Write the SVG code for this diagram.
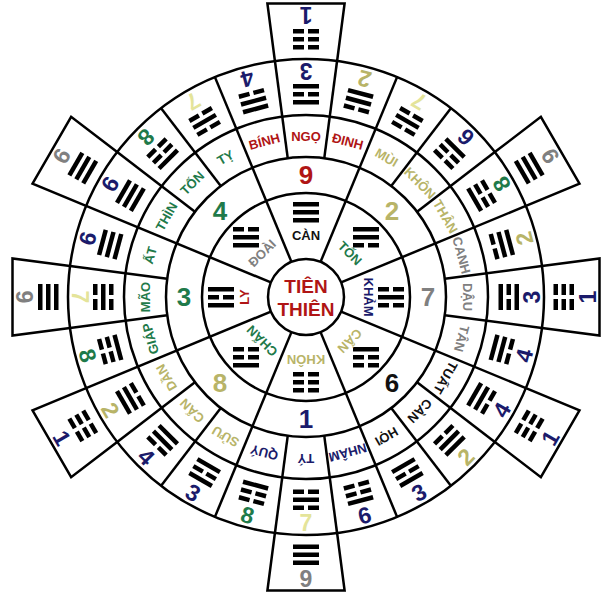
<svg xmlns="http://www.w3.org/2000/svg" xmlns:xlink="http://www.w3.org/1999/xlink" width="610" height="603" viewBox="0 0 610 603">
<style>
.ln{stroke:#000;stroke-width:2.5;fill:none}
.bx{stroke:#000;stroke-width:2.5;fill:#fff}
.lb{font-family:"Liberation Sans",Arial,sans-serif;font-weight:bold;font-size:13px;text-anchor:middle;dominant-baseline:central}
.nm{font-family:"Liberation Sans",Arial,sans-serif;font-weight:bold;font-size:23px;text-anchor:middle;dominant-baseline:central}
.ni{font-family:"Liberation Sans",Arial,sans-serif;font-weight:bold;font-size:26px;text-anchor:middle;dominant-baseline:central}
.red{fill:#b01515}.ol{fill:#b8b468}.ye{fill:#e4e49a}.nv{fill:#1b1b6b}.gr{fill:#1f7a4a}.gy{fill:#808080}.bk{fill:#111}
</style>
<defs>
<rect id="s" x="-13" y="-2" width="26" height="4.5"/>
<g id="b"><rect x="-13" y="-2" width="11" height="4.5"/><rect x="2" y="-2" width="11" height="4.5"/></g>
<g id="t9"><use href="#s" y="-8"/><use href="#s"/><use href="#s" y="8"/></g>
<g id="t4"><use href="#b" y="-8"/><use href="#s"/><use href="#s" y="8"/></g>
<g id="t3"><use href="#s" y="-8"/><use href="#b"/><use href="#s" y="8"/></g>
<g id="t8"><use href="#b" y="-8"/><use href="#b"/><use href="#s" y="8"/></g>
<g id="t2"><use href="#s" y="-8"/><use href="#s"/><use href="#b" y="8"/></g>
<g id="t7"><use href="#b" y="-8"/><use href="#s"/><use href="#b" y="8"/></g>
<g id="t6"><use href="#s" y="-8"/><use href="#b"/><use href="#b" y="8"/></g>
<g id="t1"><use href="#b" y="-8"/><use href="#b"/><use href="#b" y="8"/></g>
<path id="box" class="bx" d="M-31.1,-236 L-38.6,-293.5 L38.6,-293.5 L31.1,-236"/>
</defs>
<g transform="translate(306,297)">
<g id="boxes">
<g transform="rotate(0)"><use href="#box"/><use href="#t1" y="-258"/><text class="nm nv" transform="translate(0,-282) rotate(180)">1</text></g>
<g transform="rotate(60)"><use href="#box"/><use href="#t9" y="-258"/><text class="nm gy" transform="translate(0,-282) rotate(180)">9</text></g>
<g transform="rotate(90)"><use href="#box"/><use href="#t1" y="-258"/><text class="nm nv" transform="translate(0,-282) rotate(180)">1</text></g>
<g transform="rotate(120)"><use href="#box"/><use href="#t1" y="-258"/><text class="nm nv" transform="translate(0,-282) rotate(180)">1</text></g>
<g transform="rotate(180)"><use href="#box"/><use href="#t9" y="-258"/><text class="nm gy" transform="translate(0,-282) rotate(180)">9</text></g>
<g transform="rotate(240)"><use href="#box"/><use href="#t1" y="-258"/><text class="nm nv" transform="translate(0,-282) rotate(180)">1</text></g>
<g transform="rotate(270)"><use href="#box"/><use href="#t9" y="-258"/><text class="nm gy" transform="translate(0,-282) rotate(180)">9</text></g>
<g transform="rotate(300)"><use href="#box"/><use href="#t9" y="-258"/><text class="nm gy" transform="translate(0,-282) rotate(180)">9</text></g>
</g>
<circle r="238" fill="#fff" stroke="#000" stroke-width="2.5"/>
<g id="connectors" class="ln">
<circle r="182"/><circle r="140"/><circle r="104"/>
<line x1="0" y1="-140" x2="0" y2="-238" transform="rotate(7.5)"/>
<line x1="0" y1="-38" x2="0" y2="-238" transform="rotate(22.5)"/>
<line x1="0" y1="-140" x2="0" y2="-238" transform="rotate(37.5)"/>
<line x1="0" y1="-140" x2="0" y2="-238" transform="rotate(52.5)"/>
<line x1="0" y1="-38" x2="0" y2="-238" transform="rotate(67.5)"/>
<line x1="0" y1="-140" x2="0" y2="-238" transform="rotate(82.5)"/>
<line x1="0" y1="-140" x2="0" y2="-238" transform="rotate(97.5)"/>
<line x1="0" y1="-38" x2="0" y2="-238" transform="rotate(112.5)"/>
<line x1="0" y1="-140" x2="0" y2="-238" transform="rotate(127.5)"/>
<line x1="0" y1="-140" x2="0" y2="-238" transform="rotate(142.5)"/>
<line x1="0" y1="-38" x2="0" y2="-238" transform="rotate(157.5)"/>
<line x1="0" y1="-140" x2="0" y2="-238" transform="rotate(172.5)"/>
<line x1="0" y1="-140" x2="0" y2="-238" transform="rotate(187.5)"/>
<line x1="0" y1="-38" x2="0" y2="-238" transform="rotate(202.5)"/>
<line x1="0" y1="-140" x2="0" y2="-238" transform="rotate(217.5)"/>
<line x1="0" y1="-140" x2="0" y2="-238" transform="rotate(232.5)"/>
<line x1="0" y1="-38" x2="0" y2="-238" transform="rotate(247.5)"/>
<line x1="0" y1="-140" x2="0" y2="-238" transform="rotate(262.5)"/>
<line x1="0" y1="-140" x2="0" y2="-238" transform="rotate(277.5)"/>
<line x1="0" y1="-38" x2="0" y2="-238" transform="rotate(292.5)"/>
<line x1="0" y1="-140" x2="0" y2="-238" transform="rotate(307.5)"/>
<line x1="0" y1="-140" x2="0" y2="-238" transform="rotate(322.5)"/>
<line x1="0" y1="-38" x2="0" y2="-238" transform="rotate(337.5)"/>
<line x1="0" y1="-140" x2="0" y2="-238" transform="rotate(352.5)"/>
</g>
<g id="outer-ring">
<g transform="rotate(0)"><use href="#t3" y="-203"/><text class="nm nv" transform="translate(0,-226) rotate(180)">3</text></g>
<g transform="rotate(15)"><use href="#t2" y="-203"/><text class="nm ol" transform="translate(0,-226) rotate(180)">2</text></g>
<g transform="rotate(30)"><use href="#t7" y="-203"/><text class="nm ye" transform="translate(0,-226) rotate(180)">7</text></g>
<g transform="rotate(45)"><use href="#t6" y="-203"/><text class="nm nv" transform="translate(0,-226) rotate(180)">6</text></g>
<g transform="rotate(60)"><use href="#t8" y="-203"/><text class="nm gr" transform="translate(0,-226) rotate(180)">8</text></g>
<g transform="rotate(75)"><use href="#t2" y="-203"/><text class="nm ol" transform="translate(0,-226) rotate(180)">2</text></g>
<g transform="rotate(90)"><use href="#t3" y="-203"/><text class="nm nv" transform="translate(0,-226) rotate(180)">3</text></g>
<g transform="rotate(105)"><use href="#t4" y="-203"/><text class="nm nv" transform="translate(0,-226) rotate(180)">4</text></g>
<g transform="rotate(120)"><use href="#t4" y="-203"/><text class="nm nv" transform="translate(0,-226) rotate(180)">4</text></g>
<g transform="rotate(135)"><use href="#t2" y="-203"/><text class="nm ol" transform="translate(0,-226) rotate(180)">2</text></g>
<g transform="rotate(150)"><use href="#t3" y="-203"/><text class="nm nv" transform="translate(0,-226) rotate(180)">3</text></g>
<g transform="rotate(165)"><use href="#t6" y="-203"/><text class="nm nv" transform="translate(0,-226) rotate(180)">6</text></g>
<g transform="rotate(180)"><use href="#t7" y="-203"/><text class="nm ye" transform="translate(0,-226) rotate(180)">7</text></g>
<g transform="rotate(195)"><use href="#t8" y="-203"/><text class="nm gr" transform="translate(0,-226) rotate(180)">8</text></g>
<g transform="rotate(210)"><use href="#t3" y="-203"/><text class="nm nv" transform="translate(0,-226) rotate(180)">3</text></g>
<g transform="rotate(225)"><use href="#t4" y="-203"/><text class="nm nv" transform="translate(0,-226) rotate(180)">4</text></g>
<g transform="rotate(240)"><use href="#t2" y="-203"/><text class="nm ol" transform="translate(0,-226) rotate(180)">2</text></g>
<g transform="rotate(255)"><use href="#t8" y="-203"/><text class="nm gr" transform="translate(0,-226) rotate(180)">8</text></g>
<g transform="rotate(270)"><use href="#t7" y="-203"/><text class="nm ye" transform="translate(0,-226) rotate(180)">7</text></g>
<g transform="rotate(285)"><use href="#t9" y="-203"/><text class="nm nv" transform="translate(0,-226) rotate(180)">9</text></g>
<g transform="rotate(300)"><use href="#t9" y="-203"/><text class="nm nv" transform="translate(0,-226) rotate(180)">9</text></g>
<g transform="rotate(315)"><use href="#t8" y="-203"/><text class="nm gr" transform="translate(0,-226) rotate(180)">8</text></g>
<g transform="rotate(330)"><use href="#t7" y="-203"/><text class="nm ye" transform="translate(0,-226) rotate(180)">7</text></g>
<g transform="rotate(345)"><use href="#t4" y="-203"/><text class="nm nv" transform="translate(0,-226) rotate(180)">4</text></g>
</g>
<g id="mountains">
<text class="lb red" transform="rotate(0) translate(0,-161)">NGỌ</text>
<text class="lb red" transform="rotate(15) translate(0,-161)">ĐINH</text>
<text class="lb ol" transform="rotate(30) translate(0,-161)">MÙI</text>
<text class="lb ol" transform="rotate(45) translate(0,-161)">KHÔN</text>
<text class="lb ol" transform="rotate(60) translate(0,-161)">THÂN</text>
<text class="lb gy" transform="rotate(75) translate(0,-161)">CANH</text>
<text class="lb gy" transform="rotate(90) translate(0,-161)">DẬU</text>
<text class="lb gy" transform="rotate(105) translate(0,-161)">TÂN</text>
<text class="lb bk" transform="rotate(120) translate(0,-161)">TUẤT</text>
<text class="lb bk" transform="rotate(135) translate(0,-161)">CÀN</text>
<text class="lb bk" transform="rotate(150) translate(0,-161)">HỢI</text>
<text class="lb nv" transform="rotate(165) translate(0,-161)">NHÂM</text>
<text class="lb nv" transform="rotate(180) translate(0,-161)">TÝ</text>
<text class="lb nv" transform="rotate(195) translate(0,-161)">QUÝ</text>
<text class="lb ol" transform="rotate(210) translate(0,-161)">SỬU</text>
<text class="lb ol" transform="rotate(225) translate(0,-161)">CẤN</text>
<text class="lb ol" transform="rotate(240) translate(0,-161)">DẦN</text>
<text class="lb gr" transform="rotate(255) translate(0,-161)">GIÁP</text>
<text class="lb gr" transform="rotate(270) translate(0,-161)">MÃO</text>
<text class="lb gr" transform="rotate(285) translate(0,-161)">ẤT</text>
<text class="lb gr" transform="rotate(300) translate(0,-161)">THÌN</text>
<text class="lb gr" transform="rotate(315) translate(0,-161)">TỐN</text>
<text class="lb gr" transform="rotate(330) translate(0,-161)">TỴ</text>
<text class="lb red" transform="rotate(345) translate(0,-161)">BÍNH</text>
</g>
<g id="inner-numbers">
<text class="ni red" x="0" y="-122">9</text>
<text class="ni ol" x="86" y="-86">2</text>
<text class="ni gy" x="122" y="0">7</text>
<text class="ni bk" x="86" y="86">6</text>
<text class="ni nv" x="0" y="122">1</text>
<text class="ni ol" x="-86" y="86">8</text>
<text class="ni gr" x="-122" y="0">3</text>
<text class="ni gr" x="-86" y="-86">4</text>
</g>
<g id="trigrams">
<use href="#t9" x="0" y="-85"/><text class="lb bk" transform="rotate(0) translate(0,-62)">CÀN</text>
<use href="#t2" x="60" y="-60"/><text class="lb gr" transform="rotate(45) translate(0,-62)">TỐN</text>
<use href="#t7" x="85" y="0"/><text class="lb nv" transform="rotate(90) translate(0,-62)">KHẢM</text>
<use href="#t6" x="60" y="60"/><text class="lb ol" transform="rotate(135) translate(0,-62)">CẤN</text>
<use href="#t1" x="0" y="85"/><text class="lb ol" transform="rotate(180) translate(0,-62)">KHÔN</text>
<use href="#t8" x="-60" y="60"/><text class="lb gr" transform="rotate(225) translate(0,-62)">CHẤN</text>
<use href="#t3" x="-85" y="0"/><text class="lb red" transform="rotate(270) translate(0,-62)">LY</text>
<use href="#t4" x="-60" y="-60"/><text class="lb gy" transform="rotate(315) translate(0,-62)">ĐOÀI</text>
</g>
<g id="center">
<circle r="38" fill="#fff" stroke="#000" stroke-width="2.5"/>
<text class="lb red" style="font-size:19px" y="-11">TIÊN</text>
<text class="lb red" style="font-size:19px" y="12">THIÊN</text>
</g>
</g>
</svg>
